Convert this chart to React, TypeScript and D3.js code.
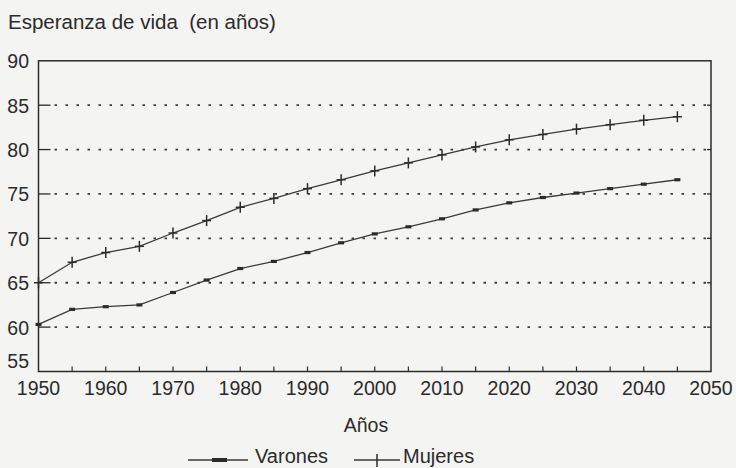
import React from "react";
import * as d3 from "d3";

const years = [1950, 1955, 1960, 1965, 1970, 1975, 1980, 1985, 1990, 1995, 2000, 2005, 2010, 2015, 2020, 2025, 2030, 2035, 2040, 2045];
const varones = [60.3, 62.0, 62.3, 62.5, 63.9, 65.3, 66.6, 67.4, 68.4, 69.5, 70.5, 71.3, 72.2, 73.2, 74.0, 74.6, 75.1, 75.6, 76.1, 76.6];
const mujeres = [65.0, 67.3, 68.4, 69.1, 70.6, 72.0, 73.5, 74.5, 75.6, 76.6, 77.6, 78.5, 79.4, 80.3, 81.1, 81.7, 82.3, 82.8, 83.3, 83.7];
const yTicks = [55, 60, 65, 70, 75, 80, 85, 90];
const gridValues = [60, 65, 70, 75, 80, 85];
const xLabels = [1950, 1960, 1970, 1980, 1990, 2000, 2010, 2020, 2030, 2040, 2050];
const xMinorTicks = [1955, 1960, 1965, 1970, 1975, 1980, 1985, 1990, 1995, 2000, 2005, 2010, 2015, 2020, 2025, 2030, 2035, 2040, 2045];

const W = 736;
const H = 468;
const left = 38.5;
const right = 711;
const top = 60.8;
const bottom = 371.5;
const ink = "#2b2b2b";
const font = "'Liberation Sans', Arial, Helvetica, sans-serif";

export default function App() {
  const x = d3.scaleLinear().domain([1950, 2050]).range([left, right]);
  const y = d3.scaleLinear().domain([55, 90]).range([bottom, top]);
  const line = d3
    .line<number>()
    .x((_, i) => x(years[i]))
    .y((d) => y(d));

  return (
    <svg
      width={W}
      height={H}
      viewBox={`0 0 ${W} ${H}`}
      style={{ position: "absolute", left: 0, top: 0, display: "block" }}
      fontFamily={font}
    >
      <rect x={0} y={0} width={W} height={H} fill="#f4f4f2" />
      <text x={8} y={29} fontSize={20.5} fill={ink}>
        Esperanza de vida{"\u00a0\u00a0"}(en años)
      </text>

      {/* gridlines */}
      {gridValues.map((v) => (
        <g key={v}>
          <line x1={left} x2={left + 12} y1={y(v)} y2={y(v)} stroke={ink} strokeWidth={1.3} />
          <line
            x1={left + 16}
            x2={right - 3}
            y1={y(v)}
            y2={y(v)}
            stroke="#3c3c3c"
            strokeWidth={1.8}
            strokeDasharray="2.5 8.5"
          />
          <line x1={right - 4} x2={right} y1={y(v)} y2={y(v)} stroke={ink} strokeWidth={1.3} />
        </g>
      ))}

      {/* frame */}
      <rect x={left} y={top} width={right - left} height={bottom - top} fill="none" stroke={ink} strokeWidth={1.5} />

      {/* y labels */}
      {yTicks.map((v) => (
        <text key={v} x={29} y={v === 55 ? y(v) - 4 : y(v) + 7.5} fontSize={19.5} textAnchor="end" fill={ink}>
          {v}
        </text>
      ))}

      {/* x minor ticks */}
      {xMinorTicks.map((t) => (
        <line key={t} x1={x(t)} x2={x(t)} y1={bottom} y2={bottom - 5} stroke={ink} strokeWidth={1.2} />
      ))}

      {/* x labels */}
      {xLabels.map((t) => (
        <text key={t} x={x(t)} y={395} fontSize={19.5} textAnchor="middle" fill={ink}>
          {t}
        </text>
      ))}
      <text x={366} y={432} fontSize={19.5} textAnchor="middle" fill={ink}>
        Años
      </text>

      {/* series lines */}
      <path d={line(varones) || ""} fill="none" stroke="#3a3a3a" strokeWidth={1.3} />
      <path d={line(mujeres) || ""} fill="none" stroke="#3a3a3a" strokeWidth={1.3} />

      {/* markers */}
      {varones.map((v, i) => (
        <rect key={"v" + i} x={x(years[i]) - 3} y={y(v) - 1.6} width={6} height={3.2} fill="#2b2b2b" />
      ))}
      {mujeres.map((v, i) => (
        <g key={"m" + i} stroke="#2b2b2b" strokeWidth={1.5}>
          <line x1={x(years[i])} x2={x(years[i])} y1={y(v) - 5.5} y2={y(v) + 5.5} />
          <line x1={x(years[i]) - 4.5} x2={x(years[i]) + 4.5} y1={y(v)} y2={y(v)} />
        </g>
      ))}

      {/* legend */}
      <g>
        <line x1={188} x2={248} y1={460} y2={460} stroke="#3a3a3a" strokeWidth={1.3} />
        <rect x={212} y={458} width={15} height={4} fill="#2b2b2b" />
        <text x={255} y={463} fontSize={20} fill={ink}>
          Varones
        </text>
        <line x1={354} x2={400} y1={460} y2={460} stroke="#3a3a3a" strokeWidth={1.3} />
        <line x1={377} x2={377} y1={454} y2={467} stroke="#2b2b2b" strokeWidth={1.5} />
        <text x={403} y={463} fontSize={20} fill={ink}>
          Mujeres
        </text>
      </g>
    </svg>
  );
}
